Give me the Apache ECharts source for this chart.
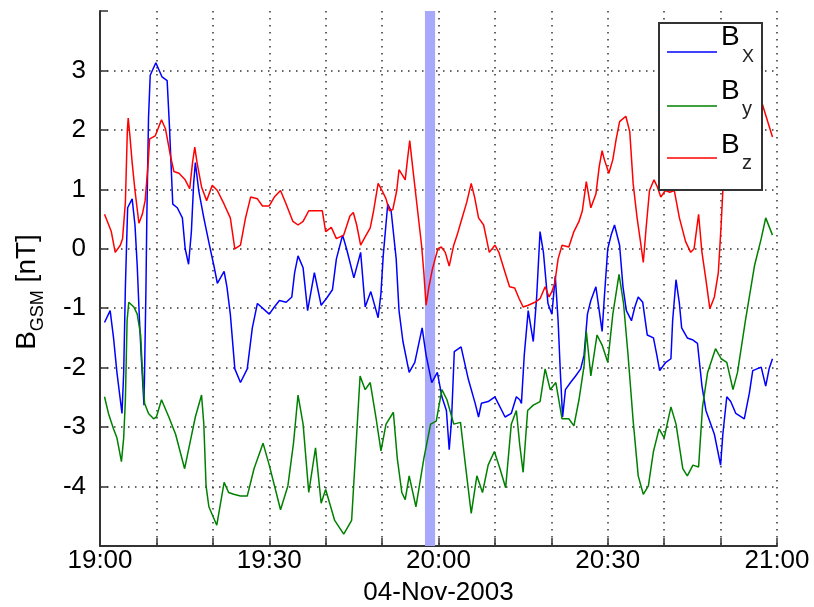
<!DOCTYPE html>
<html>
<head>
<meta charset="utf-8">
<script src="https://cdn.jsdelivr.net/npm/echarts@6/dist/echarts.min.js"></script>
<style>
  html, body { margin: 0; padding: 0; background: #fff; }
  #chart { width: 814px; height: 607px; }
</style>
</head>
<body>
<div id="chart"></div>
<script>
// Magnetic field components in GSM coordinates, 04-Nov-2003, 19:00-21:00 UT.
// Times are minutes after 19:00, values in nT.
const bxTime = [0.8,1.8,2.4,3.0,3.6,3.9,4.2,4.5,4.9,5.7,6.2,6.6,7.0,7.3,7.8,7.95,8.15,8.3,8.6,8.9,9.9,11.0,11.9,12.3,12.9,13.7,14.6,15.1,15.7,16.2,16.6,16.9,17.5,18.4,19.4,20.2,20.8,22.0,22.5,23.1,23.9,24.9,26.1,27.0,27.9,30.0,30.9,31.8,33.0,34.0,34.5,35.1,36.0,36.8,38.0,39.2,40.1,41.2,41.9,43.0,43.7,45.0,46.2,47.0,48.0,49.3,49.8,50.2,51.0,51.6,52.5,53.0,53.7,54.8,55.8,57.1,57.8,58.8,59.8,60.6,61.4,61.9,62.3,62.8,64.0,65.3,66.5,67.1,67.6,68.8,70.0,71.8,72.9,73.8,74.4,74.7,75.2,75.9,76.8,77.4,78.0,78.6,79.4,80.1,80.7,81.2,81.6,82.0,82.5,83.4,84.3,85.2,85.8,86.4,87.0,87.9,89.0,89.4,90.0,90.6,91.2,92.1,92.7,93.3,94.2,94.8,95.4,96.2,97.0,98.1,98.7,99.2,100.3,101.2,101.5,102.1,102.7,103.1,104.1,105.0,105.9,106.7,107.4,108.9,110.0,110.4,111.1,111.8,112.7,114.2,115.1,115.7,117.2,118.0,118.6,119.2];
const bxValue = [-1.24,-1.04,-1.5,-2.08,-2.54,-2.77,-2.08,-0.64,0.69,0.84,0.4,-0.29,-1.21,-1.79,-2.63,-1.79,-0.64,0.52,2.2,2.92,3.13,2.89,2.83,2.08,0.75,0.69,0.52,0.0,-0.26,0.29,1.1,1.45,0.98,0.52,0.06,-0.29,-0.58,-0.38,-0.64,-1.1,-2.02,-2.25,-2.02,-1.33,-0.92,-1.1,-0.98,-0.87,-0.9,-0.81,-0.4,-0.12,-0.32,-1.04,-0.4,-0.95,-0.84,-0.69,-0.17,0.23,0.0,-0.49,-0.06,-0.98,-0.72,-1.16,-0.75,-0.12,0.75,0.64,-0.17,-1.04,-1.56,-2.08,-1.91,-1.33,-1.79,-2.25,-2.08,-2.49,-2.72,-3.38,-2.9,-1.73,-1.65,-2.2,-2.6,-2.83,-2.6,-2.57,-2.49,-2.83,-2.77,-2.49,-2.54,-2.6,-1.79,-1.04,-1.56,-0.81,0.29,-0.06,-0.92,-1.1,-0.46,-1.21,-2.08,-2.83,-2.37,-2.25,-2.14,-2.02,-1.79,-1.1,-0.87,-0.64,-1.39,-0.81,0.0,0.23,0.4,0.06,-0.64,-1.04,-1.21,-0.98,-0.81,-0.9,-1.45,-1.5,-1.79,-2.05,-1.91,-1.85,-1.21,-0.52,-0.92,-1.33,-1.5,-1.53,-1.59,-2.31,-2.72,-3.12,-3.64,-3.12,-2.49,-2.57,-2.77,-2.86,-2.43,-2.05,-1.99,-2.31,-2.02,-1.85];

const byTime = [0.8,1.5,2.4,3.0,3.8,4.2,4.5,4.8,5.1,6.0,6.6,7.2,7.5,7.9,8.6,9.5,10.0,10.9,12.2,13.4,15.0,16.0,16.9,18.0,18.4,18.8,19.3,20.7,22.0,22.8,23.7,24.9,26.1,27.3,28.9,30.0,32.0,33.3,34.3,35.1,36.0,37.0,38.2,39.2,40.0,41.6,43.2,44.6,46.1,47.0,47.9,48.9,49.8,50.7,52.0,52.7,53.5,54.1,54.8,56.0,57.4,58.6,59.6,60.6,61.5,62.7,63.9,64.7,65.8,66.8,67.8,68.8,69.9,70.9,71.9,72.9,73.8,74.4,75.0,75.8,76.8,78.0,78.9,79.8,80.8,81.9,83.1,84.0,84.9,85.8,86.2,87.0,88.1,89.0,90.0,90.9,92.0,92.8,93.6,94.5,95.4,96.3,97.2,98.1,99.1,100.0,101.2,102.1,103.3,104.1,105.1,106.1,106.8,107.7,109.1,110.1,111.1,112.2,113.0,114.4,116.0,117.2,118.0,119.2];
const byValue = [-2.49,-2.77,-3.03,-3.18,-3.58,-3.18,-2.54,-1.21,-0.9,-0.98,-1.1,-1.45,-2.02,-2.6,-2.77,-2.86,-2.83,-2.54,-2.83,-3.12,-3.7,-3.24,-2.83,-2.46,-2.95,-3.99,-4.34,-4.65,-3.93,-4.1,-4.13,-4.16,-4.16,-3.7,-3.27,-3.64,-4.39,-3.99,-3.27,-2.46,-2.95,-4.1,-3.35,-4.28,-4.05,-4.57,-4.8,-4.57,-2.14,-2.37,-2.25,-2.83,-3.4,-2.95,-2.75,-3.53,-4.1,-4.22,-3.82,-4.34,-3.53,-2.95,-2.9,-2.37,-2.54,-2.95,-2.92,-3.58,-4.45,-3.82,-4.1,-3.64,-3.41,-3.7,-4.02,-2.95,-2.72,-3.3,-3.76,-2.72,-2.63,-2.57,-2.02,-2.37,-2.25,-2.86,-2.86,-2.98,-2.54,-1.97,-1.39,-2.14,-1.45,-1.62,-1.91,-1.1,-0.43,-0.92,-1.79,-2.89,-3.82,-4.13,-3.99,-3.41,-3.03,-3.18,-2.66,-2.95,-3.7,-3.82,-3.64,-3.67,-2.66,-2.08,-1.68,-1.85,-1.91,-2.37,-2.08,-1.21,-0.29,0.17,0.52,0.23];

const bzTime = [0.8,2.0,2.7,3.6,4.0,4.5,4.85,5.0,5.3,5.7,6.2,6.9,7.5,8.0,8.5,8.8,9.8,10.9,11.6,12.5,13.1,14.0,15.1,15.9,16.4,16.8,17.2,18.0,18.9,19.9,20.8,22.0,23.1,23.9,24.9,25.8,26.7,27.9,28.8,30.0,30.9,32.0,33.0,34.2,35.1,36.0,37.0,39.4,40.0,41.0,41.9,43.2,44.3,44.9,45.5,46.2,47.0,47.9,48.5,49.3,50.0,50.7,51.3,51.9,52.6,53.0,53.6,54.1,54.5,54.9,55.4,56.3,57.0,57.4,57.8,58.3,58.9,59.4,59.9,60.5,61.2,61.9,62.7,63.3,64.0,65.0,65.8,66.4,67.1,68.0,68.5,69.0,70.0,70.7,71.8,72.6,73.5,74.3,75.0,75.9,77.1,78.0,78.9,79.6,80.1,80.6,81.2,81.9,83.1,84.0,84.9,85.5,86.2,87.0,87.9,88.5,89.0,89.4,90.2,90.9,91.5,92.1,93.2,93.9,94.5,95.2,95.8,96.3,96.8,97.4,98.2,98.8,99.4,100.2,101.0,101.8,102.7,103.8,104.7,105.3,106.1,106.7,107.4,108.1,108.9,109.6,110.1,110.4,111.5,113.0,114.5,116.0,117.2,117.8,119.2];
const bzValue = [0.58,0.29,-0.06,0.06,0.17,0.78,2.0,2.2,1.9,1.45,0.98,0.43,0.58,0.81,1.39,1.85,1.9,2.17,2.02,1.56,1.3,1.27,1.16,1.01,1.45,1.71,1.45,1.04,0.81,1.07,0.98,0.75,0.52,0.0,0.06,0.52,0.87,0.84,0.72,0.72,0.87,0.98,0.75,0.46,0.4,0.46,0.64,0.64,0.29,0.36,0.17,0.23,0.55,0.61,0.4,0.06,0.2,0.35,0.64,1.1,0.98,0.84,0.64,0.66,0.98,1.33,1.24,1.16,1.5,1.82,1.39,0.64,0.06,-0.4,-0.95,-0.64,-0.35,-0.17,0.0,0.03,-0.06,-0.29,0.06,0.23,0.46,0.78,1.1,0.87,0.52,0.4,0.17,-0.06,0.06,-0.06,-0.4,-0.64,-0.66,-0.84,-0.98,-0.95,-0.9,-0.84,-0.64,-0.81,-0.72,-0.58,-0.17,0.06,0.03,0.29,0.46,0.64,1.13,0.69,0.92,1.39,1.65,1.5,1.27,1.5,1.85,2.14,2.23,1.97,1.1,0.52,0.12,-0.23,0.35,0.98,1.16,1.04,0.87,0.98,0.95,0.98,0.52,0.12,-0.06,0.0,0.58,-0.06,-0.52,-1.01,-0.81,-0.4,0.4,0.98,1.6,2.0,1.7,2.3,2.5,2.31,1.88];

// Highlighted interval (minutes after 19:00)
const bandStart = 57.6;
const bandEnd = 59.4;

const xTickLabels = ['19:00', '19:30', '20:00', '20:30', '21:00'];
const dateLabel = '04-Nov-2003';

const pairs = (t, v) => t.map((x, i) => [x, v[i]]);

const FONT = '"Liberation Sans", Arial, Helvetica, sans-serif';
const gridDots = { color: '#333', width: 1.5, type: [1.5, 5.5] };
const LEGEND_Z = 100;

const chart = echarts.init(document.getElementById('chart'), null, { renderer: 'canvas' });

chart.setOption({
  animation: false,
  backgroundColor: '#fff',
  grid: { left: 100, right: 37, top: 11, bottom: 61, containLabel: false, outerBoundsMode: 'none' },
  xAxis: {
    type: 'value',
    min: 0, max: 120, interval: 10,
    name: dateLabel,
    nameLocation: 'middle',
    nameGap: 34,
    nameTextStyle: { fontFamily: FONT, fontSize: 26, color: '#000' },
    axisLine: { onZero: false, lineStyle: { color: '#333', width: 2 } },
    axisTick: { inside: true, length: 8, lineStyle: { color: '#333', width: 1.5 } },
    axisLabel: {
      fontFamily: FONT, fontSize: 26, color: '#000', margin: 2,
      showMinLabel: true, showMaxLabel: true, hideOverlap: false,
      formatter: v => (v % 30 === 0 ? xTickLabels[v / 30] : '')
    },
    splitLine: { show: true, showMinLine: false, showMaxLine: true, lineStyle: gridDots }
  },
  yAxis: {
    type: 'value',
    min: -5, max: 4, interval: 1,
    axisLine: { show: true, onZero: false, lineStyle: { color: '#333', width: 2 } },
    axisTick: { show: true, inside: true, length: 8, lineStyle: { color: '#333', width: 1.5 } },
    axisLabel: {
      fontFamily: FONT, fontSize: 26, color: '#000', margin: 14,
      formatter: v => (v <= -5 || v >= 4 ? '' : String(v))
    },
    splitLine: { show: true, showMinLine: false, showMaxLine: false, lineStyle: gridDots }
  },
  series: [
    {
      name: 'Bx', type: 'line', data: pairs(bxTime, bxValue),
      showSymbol: false, smooth: false, z: 3,
      lineStyle: { color: '#0000ff', width: 1.5 },
      markArea: {
        silent: true, z: 1,
        itemStyle: { color: '#a9a9fb', opacity: 1 },
        data: [[{ xAxis: bandStart }, { xAxis: bandEnd }]]
      }
    },
    {
      name: 'By', type: 'line', data: pairs(byTime, byValue),
      showSymbol: false, smooth: false, z: 3,
      lineStyle: { color: '#008000', width: 1.5 }
    },
    {
      name: 'Bz', type: 'line', data: pairs(bzTime, bzValue),
      showSymbol: false, smooth: false, z: 3,
      lineStyle: { color: '#ff0000', width: 1.5 }
    }
  ],
  graphic: [
    // y-axis title: B_GSM [nT]
    {
      type: 'text', x: 27, y: 292, rotation: Math.PI / 2, z: LEGEND_Z,
      style: {
        text: '{b|B}{s|GSM}{b| [nT]}',
        align: 'center', verticalAlign: 'middle',
        fontFamily: FONT,
        rich: {
          b: { fontFamily: FONT, fontSize: 28, color: '#000', lineHeight: 40, verticalAlign: 'middle' },
          s: { fontFamily: FONT, fontSize: 18, color: '#000', lineHeight: 40, verticalAlign: 'bottom' }
        }
      }
    },
    // legend box with line samples and labels
    { type: 'rect', z: LEGEND_Z, shape: { x: 659, y: 23, width: 103, height: 167 },
      style: { fill: '#fff', stroke: '#333', lineWidth: 2 } },
    { type: 'line', z: LEGEND_Z + 1, shape: { x1: 667, y1: 52, x2: 717, y2: 52 }, style: { stroke: '#0000ff', lineWidth: 1.5 } },
    { type: 'line', z: LEGEND_Z + 1, shape: { x1: 667, y1: 106, x2: 717, y2: 106 }, style: { stroke: '#008000', lineWidth: 1.5 } },
    { type: 'line', z: LEGEND_Z + 1, shape: { x1: 667, y1: 158, x2: 717, y2: 158 }, style: { stroke: '#ff0000', lineWidth: 1.5 } },
    { type: 'text', z: LEGEND_Z + 1, x: 721, y: 37, style: { text: 'B', fontFamily: FONT, fontSize: 28, fill: '#000', verticalAlign: 'middle' } },
    { type: 'text', z: LEGEND_Z + 1, x: 742, y: 57, style: { text: 'X', fontFamily: FONT, fontSize: 18, fill: '#222', verticalAlign: 'middle' } },
    { type: 'text', z: LEGEND_Z + 1, x: 721, y: 91, style: { text: 'B', fontFamily: FONT, fontSize: 28, fill: '#000', verticalAlign: 'middle' } },
    { type: 'text', z: LEGEND_Z + 1, x: 742, y: 109, style: { text: 'y', fontFamily: FONT, fontSize: 20, fill: '#222', verticalAlign: 'middle' } },
    { type: 'text', z: LEGEND_Z + 1, x: 721, y: 145, style: { text: 'B', fontFamily: FONT, fontSize: 28, fill: '#000', verticalAlign: 'middle' } },
    { type: 'text', z: LEGEND_Z + 1, x: 742, y: 163, style: { text: 'z', fontFamily: FONT, fontSize: 20, fill: '#222', verticalAlign: 'middle' } }
  ]
});
</script>
</body>
</html>
